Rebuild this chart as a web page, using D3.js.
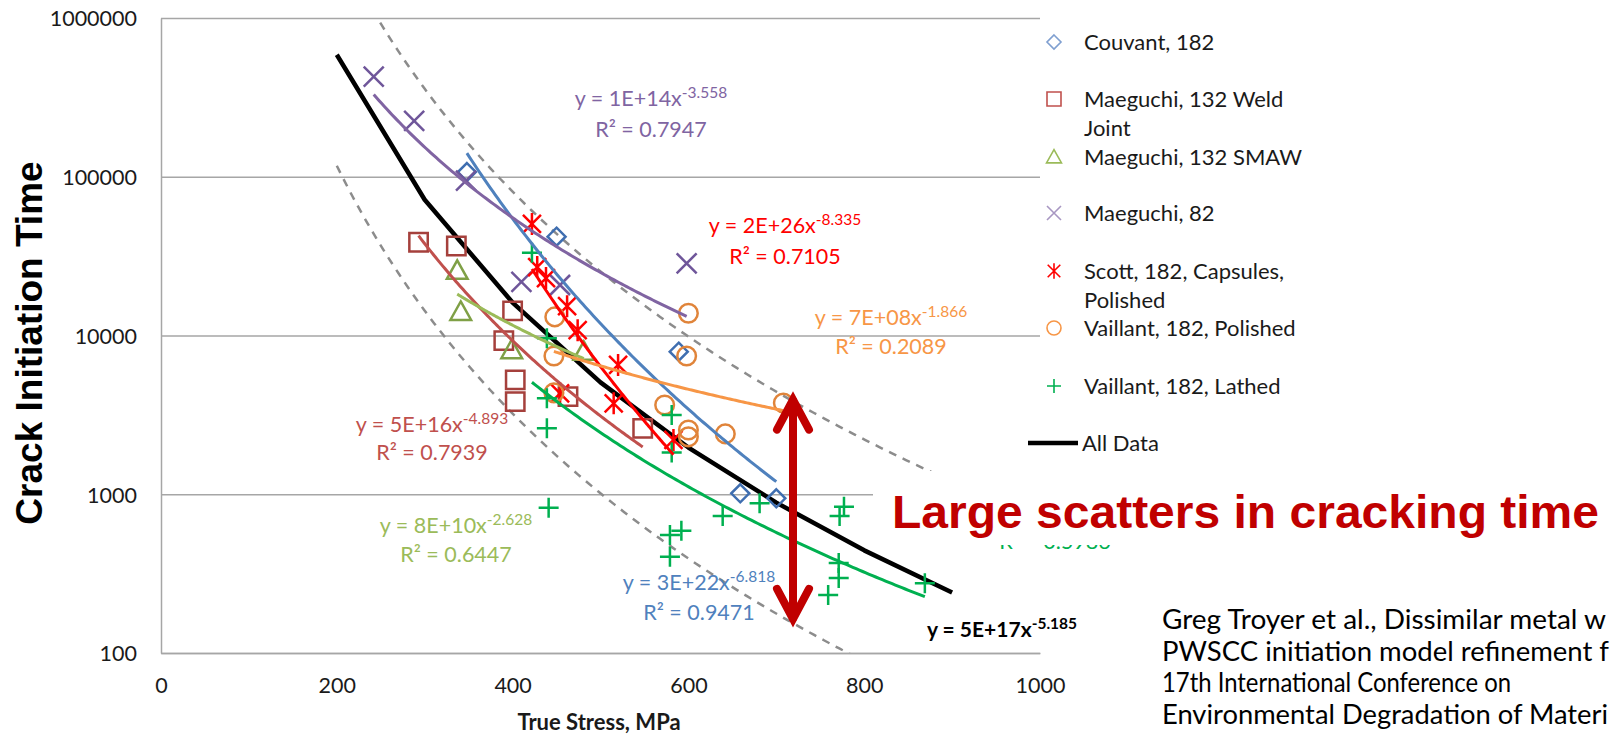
<!DOCTYPE html>
<html><head><meta charset="utf-8">
<script src="https://cdn.jsdelivr.net/npm/d3@7"></script>
<style>body{margin:0;background:#fff}svg{display:block}</style>
</head><body>
<svg id="chart" width="1612" height="734"></svg>
<script>
// ---------------- DATA ----------------
const seriesNames = ["Couvant, 182", "Maeguchi, 132 Weld Joint", "Maeguchi, 132 SMAW", "Maeguchi, 82",
  "Scott, 182, Capsules, Polished", "Vaillant, 182, Polished", "Vaillant, 182, Lathed"];
const legendLines = [["Couvant, 182"], ["Maeguchi, 132 Weld", "Joint"], ["Maeguchi, 132 SMAW"], ["Maeguchi, 82"],
  ["Scott, 182, Capsules,", "Polished"], ["Vaillant, 182, Polished"], ["Vaillant, 182, Lathed"]];

const couvantStress = [348, 450, 589, 659, 700];
const couvantTime   = [107000, 41900, 7910, 1014, 943];

const weldStress = [293, 336, 400, 390, 403, 403, 463, 548];
const weldTime   = [38700, 36600, 14300, 9280, 5250, 3830, 4120, 2600];

const smawStress = [337, 341, 399, 481];
const smawTime   = [25600, 14100, 8100, 7900];

const m82Stress = [242, 288, 347, 410, 454, 598];
const m82Time   = [427000, 225000, 94400, 21800, 20800, 28500];

const scottStress = [422, 428, 438, 462, 474, 520, 515, 454, 583];
const scottTime   = [50400, 27000, 23000, 15300, 10800, 6520, 3740, 4320, 2200];

const polStress = [600, 598, 448, 447, 447, 573, 600, 600, 642, 708];
const polTime   = [13800, 7430, 13100, 7430, 4350, 3650, 2540, 2300, 2400, 3760];

const lathStress = [422, 439, 439, 439, 581, 581, 441, 579, 592, 579, 639, 681, 777, 772, 771, 771, 759, 869];
const lathTime   = [33200, 9600, 4020, 2600, 3160, 1830, 823, 554, 589, 404, 729, 877, 835, 729, 369, 297, 232, 275];

const allDataStress = [200, 300, 400, 500, 600, 700, 800, 900];
const allDataTime   = [586500, 71640, 16120, 5067, 1969, 885.6, 443.2, 240.6];

// power-law trend lines y = a * x^b (one per series, same order)
const fitCoef = [3e22, 5e16, 8e10, 1e14, 2e26, 7e8, 1.03e15];
const fitExp  = [-6.818, -4.893, -2.628, -3.558, -8.335, -1.866, -4.307];
const fitCoefLabel = ["3E+22", "5E+16", "8E+10", "1E+14", "2E+26", "7E+08", "1E+15"];
const fitR2   = ["0.9471", "0.7939", "0.6447", "0.7947", "0.7105", "0.2089", "0.5986"];

const allFitCoef = 5e17, allFitExp = -5.185, allFitLabel = "5E+17";
const bandFactor = 5;
const bandStress = [200, 900];

const xTicks = [0, 200, 400, 600, 800, 1000];
const yTicks = [100, 1000, 10000, 100000, 1000000];

const arrowStress = 719, arrowTop = 4120, arrowBottom = 157;

const citation = ["Greg Troyer et al., Dissimilar metal w", "PWSCC initiation model refinement f",
  "17th International Conference on", "Environmental Degradation of Materi"];

// ---------------- STYLE ----------------
const markerColor = ["#3F6EB0", "#A5403C", "#7FA046", "#6F569A", "#FF0000", "#E0843A", "#00B050"];
const lineColor   = ["#4F81BD", "#C0504D", "#9BBB59", "#8064A2", "#FF0000", "#F79646", "#00B050"];
const legendMarkColor = ["#7F9FD0", "#C0504D", "#9BBB59", "#A897C2", "#FF0000", "#F79646", "#00B050"];
const shapes = ["diamond", "square", "triangle", "x", "star", "circle", "plus"];
const labelPos = [[699, 590, 620], [432, 432, 460], [456, 533, 562], [651, 106, 137], [785, 233, 264], [891, 325, 354], [1055, 518, 549]];
const citationWidth = [444, 447, 349, 446];

const svg = d3.select("#chart");
svg.append("rect").attr("width", 1612).attr("height", 734).attr("fill", "#fff");

const x = d3.scaleLinear().domain([0, 1000]).range([161, 1040]);
const y = d3.scaleLog().domain([100, 1000000]).range([653, 18]);

const FONT = "Lato, 'Open Sans', sans-serif";

// gridlines + axes
const yAxis = d3.axisLeft(y).tickValues(yTicks).tickFormat(d3.format("d"))
  .tickSize(-(1040 - 161)).tickSizeOuter(0).tickPadding(24);
const gy = svg.append("g").attr("transform", "translate(161,0)").call(yAxis);
gy.selectAll(".tick line").attr("stroke", "#A6A6A6").attr("stroke-width", 1.5);
gy.select(".domain").attr("stroke", "#A6A6A6").attr("stroke-width", 1.5);
gy.selectAll(".tick text").attr("font-family", FONT).attr("font-size", 21.5).attr("fill", "#1a1a1a").attr("dy", "0.36em");

const xAxis = d3.axisBottom(x).tickValues(xTicks).tickFormat(d3.format("d")).tickSize(0).tickSizeOuter(0).tickPadding(25);
const gx = svg.append("g").attr("transform", "translate(0,653)").call(xAxis);
gx.select(".domain").attr("stroke", "#A6A6A6").attr("stroke-width", 1.5);
gx.selectAll(".tick text").attr("font-family", FONT).attr("font-size", 21.5).attr("fill", "#1a1a1a");

// axis titles
svg.append("text").attr("transform", "translate(42,343) rotate(-90)").attr("text-anchor", "middle")
  .attr("font-family", "'Liberation Sans', Arial, sans-serif").attr("font-weight", "bold").attr("font-size", 37)
  .attr("fill", "#000").text("Crack Initiation Time");
svg.append("text").attr("x", 599).attr("y", 730).attr("text-anchor", "middle")
  .attr("font-family", FONT).attr("font-weight", "bold").attr("font-size", 22).attr("fill", "#1a1a1a")
  .text("True Stress, MPa");

// clip
svg.append("clipPath").attr("id", "plotClip").append("rect")
  .attr("x", 161).attr("y", 18).attr("width", 1040 - 161).attr("height", 653 - 18);
const plot = svg.append("g").attr("clip-path", "url(#plotClip)");

// scatter band (dashed)
function powerPts(a, b, x0, x1, f) {
  const n = 120, pts = [];
  for (let i = 0; i <= n; i++) { const s = x0 + (x1 - x0) * i / n; pts.push([s, a * Math.pow(s, b) * f]); }
  return pts;
}
const line = d3.line().x(d => x(d[0])).y(d => y(d[1]));
[bandFactor, 1 / bandFactor].forEach(f => {
  plot.append("path").attr("d", line(powerPts(allFitCoef, allFitExp, bandStress[0], bandStress[1], f)))
    .attr("fill", "none").attr("stroke", "#8C8C8C").attr("stroke-width", 2.5).attr("stroke-dasharray", "8,7");
});

// All-data line
plot.append("path").attr("d", line(allDataStress.map((s, i) => [s, allDataTime[i]])))
  .attr("fill", "none").attr("stroke", "#000").attr("stroke-width", 4.5).attr("stroke-linejoin", "round");

// series
const stressArr = [couvantStress, weldStress, smawStress, m82Stress, scottStress, polStress, lathStress];
const timeArr   = [couvantTime, weldTime, smawTime, m82Time, scottTime, polTime, lathTime];

function markerPath(shape, r) {
  switch (shape) {
    case "diamond": return `M0,${-r}L${r},0L0,${r}L${-r},0Z`;
    case "square": return `M${-r},${-r}H${r}V${r}H${-r}Z`;
    case "triangle": return `M0,${-r * 1.15}L${r * 1.15},${r * 0.9}L${-r * 1.15},${r * 0.9}Z`;
    case "x": return `M${-r},${-r}L${r},${r}M${-r},${r}L${r},${-r}`;
    case "star": return `M${-r * 0.9},${-r * 0.9}L${r * 0.9},${r * 0.9}M${-r * 0.9},${r * 0.9}L${r * 0.9},${-r * 0.9}M0,${-r * 1.1}L0,${r * 1.1}`;
    case "circle": return `M${r},0A${r},${r} 0 1,1 ${-r},0A${r},${r} 0 1,1 ${r},0Z`;
    case "plus": return `M${-r},0H${r}M0,${-r}V${r}`;
  }
}
const markerSize = {diamond: 9, square: 9.2, triangle: 9, x: 10, star: 10, circle: 9.3, plus: 10};

stressArr.forEach((sArr, k) => {
  plot.append("g").selectAll("path").data(sArr.map((s, i) => [s, timeArr[k][i]])).join("path")
    .attr("transform", d => `translate(${x(d[0])},${y(d[1])})`)
    .attr("d", markerPath(shapes[k], markerSize[shapes[k]]))
    .attr("fill", "none").attr("stroke", markerColor[k]).attr("stroke-width", 2.5);
});
stressArr.forEach((sArr, k) => {
  const [x0, x1] = d3.extent(sArr);
  plot.append("path").attr("d", line(powerPts(fitCoef[k], fitExp[k], x0, x1, 1)))
    .attr("fill", "none").attr("stroke", lineColor[k]).attr("stroke-width", 3);
});

// trend labels
svg.append("clipPath").attr("id", "belowBox").append("rect")
  .attr("x", 0).attr("y", 545).attr("width", 1612).attr("height", 200);
function eqLabel(cx, yb1, yb2, color, coefLbl, expVal, r2, bold, hidden) {
  if (!hidden) {
    const t = svg.append("text").attr("x", cx).attr("y", yb1).attr("text-anchor", "middle")
      .attr("font-family", FONT).attr("font-size", bold ? 21 : 21.5).attr("fill", color)
      .attr("font-weight", bold ? "bold" : "normal");
    t.append("tspan").text(`y = ${coefLbl}x`);
    t.append("tspan").attr("dy", -8).attr("font-size", 15.5).text(String(expVal));
  }
  if (r2 !== null) {
    const r = svg.append("text").attr("x", cx).attr("y", yb2).attr("text-anchor", "middle")
      .attr("font-family", FONT).attr("font-size", 21.5).attr("fill", color).text(`R² = ${r2}`);
    if (hidden) r.attr("clip-path", "url(#belowBox)");
  }
}
fitExp.forEach((b, k) => {
  const p = labelPos[k];
  eqLabel(p[0], p[1], p[2], lineColor[k], fitCoefLabel[k], b.toFixed(3), fitR2[k], false, k === 6);
});
eqLabel(1002, 637, null, "#000", allFitLabel, allFitExp.toFixed(3), null, true, false);

// callout text box (covers the lathed label)
svg.append("rect").attr("x", 873).attr("y", 471).attr("width", 739).attr("height", 74).attr("fill", "#fff");
svg.append("text").attr("x", 892).attr("y", 528).attr("font-family", "'Liberation Sans', Arial, sans-serif")
  .attr("font-weight", "bold").attr("font-size", 46).attr("fill", "#C00000")
  .attr("textLength", 707).attr("lengthAdjust", "spacingAndGlyphs").text("Large scatters in cracking time");

// double arrow
const ax = x(arrowStress), ayT = y(arrowTop), ayB = y(arrowBottom);
const arrowG = svg.append("g").attr("stroke", "#C00000").attr("stroke-width", 8).attr("fill", "none")
  .attr("stroke-linecap", "round").attr("stroke-linejoin", "miter");
arrowG.append("path").attr("d", `M${ax},${ayT + 4}V${ayB - 4}`);
arrowG.append("path").attr("d", `M${ax - 16},${ayT + 33}L${ax},${ayT + 3}L${ax + 16},${ayT + 33}`);
arrowG.append("path").attr("d", `M${ax - 16},${ayB - 33}L${ax},${ayB - 3}L${ax + 16},${ayB - 33}`);

// legend
const legendY = [42, 99, 157, 213, 271, 328, 386];
const lg = svg.append("g");
legendLines.forEach((lines, k) => {
  const yy = legendY[k];
  lg.append("path").attr("transform", `translate(1054,${yy})`)
    .attr("d", markerPath(shapes[k], shapes[k] === "triangle" ? 6.5 : 7))
    .attr("fill", "none").attr("stroke", legendMarkColor[k]).attr("stroke-width", 1.6);
  lines.forEach((ln, j) => {
    lg.append("text").attr("x", 1084).attr("y", yy + 8 + j * 29).attr("font-family", FONT)
      .attr("font-size", 22).attr("fill", "#1a1a1a").text(ln);
  });
});
lg.append("line").attr("x1", 1028).attr("x2", 1078).attr("y1", 443).attr("y2", 443)
  .attr("stroke", "#000").attr("stroke-width", 4.5);
lg.append("text").attr("x", 1082).attr("y", 451).attr("font-family", FONT).attr("font-size", 22)
  .attr("fill", "#1a1a1a").text("All Data");

// citation (cropped at the right edge in the source)
citation.forEach((c, i) => {
  svg.append("text").attr("x", 1162).attr("y", 629 + i * 31.5).attr("font-family", FONT)
    .attr("font-size", 26).attr("fill", "#000")
    .attr("textLength", citationWidth[i]).attr("lengthAdjust", "spacingAndGlyphs").text(c);
});
</script>
</body></html>
